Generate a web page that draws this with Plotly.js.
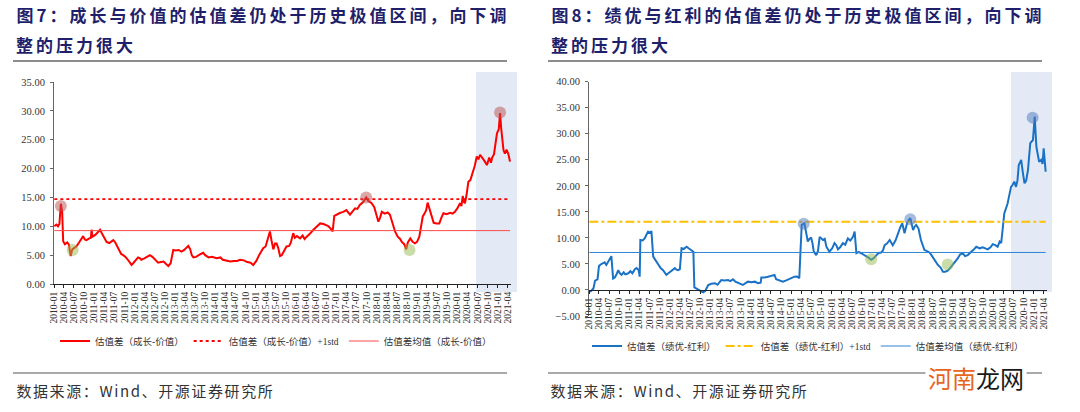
<!DOCTYPE html>
<html>
<head>
<meta charset="utf-8">
<script src="https://cdn.plot.ly/plotly-3.0.1.min.js"></script>
<style>
  html, body { margin: 0; padding: 0; background: #fff; }
  #chart { width: 1080px; height: 412px; }
  g.annotation[data-index="0"] text, g.annotation[data-index="1"] text,
  g.annotation[data-index="2"] text, g.annotation[data-index="3"] text { letter-spacing: 3px; }
  g.annotation[data-index="4"] text, g.annotation[data-index="5"] text { letter-spacing: 1.6px; }
</style>
</head>
<body>
<div id="chart"></div>
<script>
// ---------- Figure 7: growth - value valuation spread ----------
const growthDates = ["2010-01-04","2010-01-22","2010-02-06","2010-02-19","2010-03-04","2010-03-16","2010-03-25","2010-04-10","2010-05-01","2010-05-16","2010-06-01","2010-06-16","2010-07-07","2010-07-22","2010-08-16","2010-09-10","2010-09-22","2010-10-07","2010-10-22","2010-11-16","2010-12-01","2010-12-07","2010-12-16","2011-01-10","2011-02-01","2011-02-22","2011-03-10","2011-04-01","2011-04-22","2011-05-16","2011-06-07","2011-06-22","2011-07-10","2011-07-22","2011-08-16","2011-09-01","2011-09-19","2011-10-10","2011-11-01","2011-11-19","2011-12-04","2011-12-19","2012-01-10","2012-02-01","2012-02-16","2012-03-01","2012-03-25","2012-04-19","2012-05-19","2012-06-10","2012-07-01","2012-08-01","2012-08-25","2012-09-19","2012-10-10","2012-11-01","2012-11-22","2012-12-07","2012-12-16","2013-01-07","2013-02-01","2013-03-01","2013-03-25","2013-05-01","2013-05-19","2013-06-01","2013-06-16","2013-07-10","2013-08-01","2013-08-22","2013-09-13","2013-10-01","2013-11-01","2013-12-01","2014-01-13","2014-02-16","2014-03-10","2014-04-13","2014-05-16","2014-06-16","2014-07-16","2014-08-13","2014-09-16","2014-10-16","2014-11-16","2014-12-10","2015-01-07","2015-02-01","2015-02-22","2015-03-10","2015-04-01","2015-04-19","2015-05-10","2015-05-25","2015-06-10","2015-06-25","2015-07-10","2015-07-25","2015-08-10","2015-08-25","2015-09-16","2015-10-07","2015-11-01","2015-11-16","2015-12-07","2015-12-22","2016-01-10","2016-02-07","2016-03-01","2016-03-19","2016-04-07","2016-05-01","2016-06-07","2016-07-07","2016-08-07","2016-09-07","2016-10-01","2016-10-19","2016-11-10","2016-11-28","2016-12-13","2017-01-01","2017-02-01","2017-03-04","2017-04-01","2017-05-04","2017-06-01","2017-06-19","2017-07-10","2017-08-01","2017-09-01","2017-09-28","2017-10-16","2017-11-16","2017-12-10","2018-01-01","2018-01-16","2018-02-01","2018-02-16","2018-03-16","2018-04-10","2018-05-01","2018-05-19","2018-06-16","2018-07-10","2018-08-01","2018-08-16","2018-09-07","2018-09-25","2018-10-10","2018-11-01","2018-11-22","2018-12-13","2019-01-01","2019-01-22","2019-02-07","2019-02-22","2019-03-10","2019-03-25","2019-04-07","2019-04-25","2019-05-13","2019-06-01","2019-06-25","2019-07-22","2019-08-10","2019-08-28","2019-09-25","2019-10-28","2019-11-19","2019-12-10","2020-01-01","2020-01-25","2020-02-07","2020-02-19","2020-03-01","2020-03-10","2020-03-25","2020-04-10","2020-04-28","2020-05-19","2020-06-07","2020-06-25","2020-07-10","2020-07-25","2020-08-16","2020-09-07","2020-09-25","2020-10-16","2020-11-01","2020-11-10","2020-11-28","2020-12-13","2020-12-25","2021-01-10","2021-01-22","2021-02-01","2021-02-13","2021-02-22","2021-03-07","2021-03-22","2021-04-07","2021-04-22"];
const growthValues = [10.0,10.3,10.0,10.4,13.9,12.5,7.4,6.9,7.2,6.8,4.85,6.0,6.3,6.5,7.2,8.0,8.3,7.7,7.6,7.9,8.0,9.4,8.2,8.5,9.0,9.4,8.8,7.9,7.3,7.1,7.5,7.6,7.2,6.8,5.9,5.2,5.0,4.7,4.2,3.7,3.3,3.6,4.1,4.6,4.5,4.2,4.4,4.7,5.0,4.7,4.3,3.7,3.8,3.9,3.5,3.1,3.6,5.0,5.9,5.8,5.9,5.6,5.9,6.6,6.0,5.0,4.6,4.7,5.0,5.2,5.4,5.0,4.6,4.7,4.45,4.6,4.2,4.0,3.9,4.0,4.0,4.2,4.1,3.8,3.7,3.3,4.0,5.0,5.6,6.2,6.5,7.8,9.1,7.5,6.0,7.0,7.0,6.2,4.85,5.0,5.9,6.5,6.6,7.2,8.8,8.0,8.3,7.9,8.4,7.8,8.2,8.6,9.4,10.0,10.5,10.4,10.2,10.05,9.6,9.1,11.8,12.0,12.3,12.5,12.8,12.0,12.8,13.1,13.0,13.7,14.2,15.0,14.4,14.0,13.3,12.0,10.8,11.5,12.5,12.2,12.4,12.0,10.8,9.1,8.2,7.8,7.3,6.9,6.0,7.2,7.9,7.3,7.05,7.3,8.2,10.0,11.7,12.2,12.8,14.1,12.8,12.0,10.6,10.5,10.5,11.5,12.25,12.1,12.35,12.2,12.5,13.1,14.0,13.5,15.25,14.2,14.0,15.5,17.7,18.0,19.2,20.5,22.1,21.6,22.4,21.9,21.2,20.6,21.9,21.0,21.8,22.5,24.5,26.1,26.8,29.6,27.0,24.0,23.2,22.6,23.3,22.5,21.2];
const growthMean = 9.25;
const growthPlusStd = 14.7;
const growthHighDates = ["2010-03-04","2017-09-28","2021-01-22"];
const growthHighValues = [13.5,15.0,29.7];
const growthLowDates = ["2010-06-19","2018-10-25"];
const growthLowValues = [5.9,5.9];

// ---------- Figure 8: quality - dividend valuation spread ----------
const qualityDates = ["2010-01-04","2010-01-19","2010-02-10","2010-02-25","2010-03-19","2010-04-01","2010-04-16","2010-05-07","2010-05-22","2010-06-07","2010-06-25","2010-07-10","2010-07-22","2010-08-07","2010-08-22","2010-09-07","2010-09-22","2010-10-07","2010-10-22","2010-11-10","2010-11-25","2010-12-22","2011-01-10","2011-01-28","2011-02-19","2011-03-07","2011-03-25","2011-04-04","2011-04-10","2011-05-01","2011-05-19","2011-06-04","2011-06-19","2011-07-04","2011-07-19","2011-08-04","2011-08-22","2011-09-16","2011-10-10","2011-11-01","2011-12-01","2011-12-25","2012-01-19","2012-02-16","2012-03-01","2012-03-16","2012-04-01","2012-04-16","2012-05-07","2012-06-01","2012-06-19","2012-07-13","2012-08-01","2012-08-10","2012-08-28","2012-09-28","2012-10-28","2012-11-16","2012-12-13","2013-01-10","2013-02-13","2013-03-07","2013-04-10","2013-05-07","2013-06-10","2013-07-01","2013-07-25","2013-08-16","2013-09-10","2013-10-01","2013-10-22","2013-11-16","2013-12-07","2014-01-07","2014-02-07","2014-03-07","2014-04-01","2014-04-07","2014-05-07","2014-06-07","2014-07-07","2014-08-04","2014-08-19","2014-09-16","2014-10-19","2014-11-13","2014-12-07","2015-01-01","2015-02-01","2015-02-25","2015-03-16","2015-03-28","2015-04-07","2015-05-01","2015-05-16","2015-06-01","2015-06-16","2015-07-01","2015-07-13","2015-07-25","2015-08-16","2015-09-01","2015-09-16","2015-10-07","2015-10-16","2015-11-01","2015-11-16","2015-12-13","2016-01-07","2016-01-28","2016-02-13","2016-02-28","2016-03-19","2016-04-13","2016-05-04","2016-05-28","2016-06-19","2016-07-13","2016-07-28","2016-08-13","2016-09-04","2016-09-25","2016-10-16","2016-11-10","2016-12-01","2016-12-25","2017-01-16","2017-02-10","2017-03-01","2017-03-25","2017-04-10","2017-04-25","2017-05-16","2017-06-10","2017-07-07","2017-08-01","2017-08-22","2017-09-13","2017-10-01","2017-10-22","2017-11-07","2017-11-19","2017-12-13","2018-01-07","2018-01-22","2018-02-04","2018-02-25","2018-03-19","2018-04-19","2018-05-10","2018-06-04","2018-06-25","2018-07-19","2018-08-19","2018-09-13","2018-10-04","2018-10-25","2018-11-16","2018-12-07","2019-01-01","2019-01-25","2019-02-16","2019-03-07","2019-04-01","2019-04-22","2019-05-16","2019-06-16","2019-07-07","2019-08-01","2019-09-01","2019-09-28","2019-10-19","2019-11-13","2019-12-07","2019-12-28","2020-01-19","2020-02-10","2020-02-28","2020-03-13","2020-03-28","2020-04-10","2020-05-10","2020-05-25","2020-06-10","2020-06-25","2020-07-10","2020-07-25","2020-08-07","2020-08-19","2020-09-10","2020-09-25","2020-10-10","2020-10-25","2020-11-10","2020-11-22","2020-12-01","2020-12-25","2021-01-10","2021-01-25","2021-02-07","2021-02-19","2021-03-10","2021-03-22","2021-04-01","2021-04-10","2021-04-19"];
const qualityValues = [-0.3,-0.2,0.3,1.8,2.05,4.6,4.9,5.1,5.3,4.8,5.4,6.0,6.5,2.2,2.4,3.0,3.8,3.2,2.9,3.4,3.0,3.2,3.6,3.2,4.0,4.2,3.8,2.55,9.6,9.5,9.9,10.6,11.2,11.0,11.3,6.4,5.8,4.8,4.2,3.8,2.9,3.3,3.7,4.2,3.9,3.8,4.0,8.0,7.9,8.3,8.0,7.7,7.35,0.5,0.3,0.0,-0.45,-0.2,0.96,1.2,1.3,1.0,1.9,1.8,1.9,1.7,2.05,1.6,1.4,1.1,0.96,1.3,1.6,1.5,1.6,1.3,1.4,2.4,2.4,2.55,2.7,2.9,2.05,1.9,1.6,1.8,2.05,2.3,2.55,2.6,2.25,8.0,12.5,12.8,11.0,9.3,9.8,10.1,9.0,7.35,6.7,7.5,10.2,9.9,9.6,9.8,8.3,7.35,8.0,9.0,8.6,7.8,8.2,9.0,8.7,9.9,9.5,10.2,11.2,7.05,7.3,7.05,6.8,6.4,6.2,5.8,6.1,6.7,7.1,7.2,7.6,8.6,8.9,9.6,8.6,9.5,10.9,12.0,12.8,10.9,12.3,13.1,13.8,11.5,12.2,12.5,11.8,9.6,7.7,7.4,7.2,6.6,5.76,4.8,4.3,3.5,3.5,3.7,4.2,4.8,5.4,6.1,6.8,7.05,6.5,6.7,7.35,7.7,8.3,8.0,8.2,8.0,7.8,8.2,8.8,8.6,8.3,9.3,9.0,12.0,14.7,16.6,18.0,19.8,20.2,20.8,19.8,21.0,24.0,25.0,22.5,20.5,21.0,23.0,26.0,28.2,28.8,33.3,27.5,26.0,24.6,25.0,24.2,27.2,24.0,22.7];
const qualityMean = 7.2;
const qualityPlusStd = 13.1;
const qualityHighDates = ["2015-04-25","2017-12-13","2020-12-22"];
const qualityHighValues = [12.7,13.6,33.1];
const qualityLowDates = ["2016-12-25","2018-11-16"];
const qualityLowValues = [5.9,4.9];

// ---------- Text ----------
const titleLeft1 = "图7：成长与价值的估值差仍处于历史极值区间，向下调";
const titleLeft2 = "整的压力很大";
const titleRight1 = "图8：绩优与红利的估值差仍处于历史极值区间，向下调";
const titleRight2 = "整的压力很大";
const sourceText = "数据来源：Wind、开源证券研究所";
const leftNames = ["估值差（成长-价值）", "估值差（成长-价值）+1std", "估值差均值（成长-价值）"];
const rightNames = ["估值差（绩优-红利）", "估值差（绩优-红利）+1std", "估值差均值（绩优-红利）"];
const watermark = '<span style="color:#e8641e">河南</span><span style="color:#1a1a1a">龙网</span>';

const W = 1080, H = 412;
const px = v => v / W;
const py = v => 1 - v / H;
const TITLE_SP = 3, SRC_SP = 1.6;   // CSS letter-spacing used above
const spShift = (t, sp) => t.length * sp / 2;

const first = a => a[0], last = a => a[a.length - 1];

const traces = [
  // left
  {x: growthDates, y: growthValues, xaxis: 'x', yaxis: 'y', type: 'scatter', mode: 'lines',
   name: leftNames[0], line: {color: '#ff0000', width: 2}, legend: 'legend'},
  {x: [first(growthDates), last(growthDates)], y: [growthPlusStd, growthPlusStd], xaxis: 'x', yaxis: 'y',
   type: 'scatter', mode: 'lines', name: leftNames[1], line: {color: '#ff0000', width: 1.8, dash: 'dot'}, legend: 'legend'},
  {x: [first(growthDates), last(growthDates)], y: [growthMean, growthMean], xaxis: 'x', yaxis: 'y',
   type: 'scatter', mode: 'lines', name: leftNames[2], line: {color: '#ff4a4a', width: 1}, legend: 'legend'},
  {x: growthHighDates, y: growthHighValues, xaxis: 'x', yaxis: 'y', type: 'scatter', mode: 'markers',
   showlegend: false, hoverinfo: 'skip', marker: {size: 12, color: 'rgba(185,80,80,0.5)'}},
  {x: growthLowDates, y: growthLowValues, xaxis: 'x', yaxis: 'y', type: 'scatter', mode: 'markers',
   showlegend: false, hoverinfo: 'skip', marker: {size: 12, color: 'rgba(150,185,80,0.5)'}},
  // right
  {x: qualityDates, y: qualityValues, xaxis: 'x2', yaxis: 'y2', type: 'scatter', mode: 'lines',
   name: rightNames[0], line: {color: '#1a72c6', width: 2}, legend: 'legend2'},
  {x: [first(qualityDates), last(qualityDates)], y: [qualityPlusStd, qualityPlusStd], xaxis: 'x2', yaxis: 'y2',
   type: 'scatter', mode: 'lines', name: rightNames[1], line: {color: '#ffc000', width: 1.8, dash: 'dashdot'}, legend: 'legend2'},
  {x: [first(qualityDates), last(qualityDates)], y: [qualityMean, qualityMean], xaxis: 'x2', yaxis: 'y2',
   type: 'scatter', mode: 'lines', name: rightNames[2], line: {color: '#2f84d6', width: 1}, legend: 'legend2'},
  {x: qualityHighDates, y: qualityHighValues, xaxis: 'x2', yaxis: 'y2', type: 'scatter', mode: 'markers',
   showlegend: false, hoverinfo: 'skip', marker: {size: 12, color: 'rgba(80,120,190,0.5)'}},
  {x: qualityLowDates, y: qualityLowValues, xaxis: 'x2', yaxis: 'y2', type: 'scatter', mode: 'markers',
   showlegend: false, hoverinfo: 'skip', marker: {size: 12, color: 'rgba(150,185,80,0.5)'}}
];

const tickFontX = {family: 'Liberation Serif, serif', size: 9.5, color: '#333'};
const tickFontY = {family: 'Liberation Serif, serif', size: 10.5, color: '#333'};

const xCommon = {
  type: 'date', range: ['2010-01-01', '2021-05-01'], tick0: '2010-01-01', dtick: 'M3',
  tickformat: '%Y-%m', tickangle: -90, ticks: 'outside', ticklen: 3, tickcolor: '#222',
  showline: true, linecolor: '#222', linewidth: 1, showgrid: false, zeroline: false,
  tickfont: tickFontX, fixedrange: true
};
const yCommon = {
  dtick: 5, tickformat: '.2f', ticks: 'outside', ticklen: 3, tickcolor: '#666',
  showline: true, linecolor: '#666', linewidth: 1, showgrid: false, zeroline: false,
  tickfont: tickFontY, fixedrange: true, ticklabelstandoff: 3
};

const titleFont = {family: 'Noto Sans CJK SC, sans-serif', size: 17, color: '#1f1f6b', weight: 'bold'};
const srcFont = {family: 'Noto Sans CJK SC, sans-serif', size: 15, color: '#333'};
const legFont = {family: 'Liberation Serif, Noto Sans CJK SC, serif', size: 9.5, color: '#333'};

function textAnn(text, x, y, font, sp) {
  return {text: text, xref: 'paper', yref: 'paper', x: px(x), y: py(y), xanchor: 'left', yanchor: 'middle',
          xshift: spShift(text, sp), showarrow: false, font: font};
}

const layout = {
  width: W, height: H, autosize: false,
  margin: {l: 0, r: 0, t: 0, b: 0},
  paper_bgcolor: '#fff', plot_bgcolor: 'rgba(0,0,0,0)',
  xaxis: Object.assign({}, xCommon, {domain: [px(54), px(511)], anchor: 'y'}),
  yaxis: Object.assign({}, yCommon, {domain: [py(284), py(82)], range: [0, 35], anchor: 'x'}),
  xaxis2: Object.assign({}, xCommon, {domain: [px(589), px(1047)], anchor: 'free', position: py(290)}),
  yaxis2: Object.assign({}, yCommon, {domain: [py(316), py(81.7)], range: [-5, 40], anchor: 'x2'}),
  legend: {orientation: 'h', x: px(55), xanchor: 'left', y: py(341), yanchor: 'middle',
           font: legFont, bgcolor: 'rgba(0,0,0,0)', itemwidth: 30, itemclick: false, itemdoubleclick: false},
  legend2: {orientation: 'h', x: px(587), xanchor: 'left', y: py(346), yanchor: 'middle',
           font: legFont, bgcolor: 'rgba(0,0,0,0)', itemwidth: 30, itemclick: false, itemdoubleclick: false},
  shapes: [
    {type: 'rect', xref: 'paper', yref: 'paper', x0: px(476), x1: px(517), y0: py(292), y1: py(72),
     fillcolor: '#e3eaf5', line: {width: 0}, layer: 'below'},
    {type: 'rect', xref: 'paper', yref: 'paper', x0: px(1011), x1: px(1052), y0: py(292), y1: py(72),
     fillcolor: '#e3eaf5', line: {width: 0}, layer: 'below'},
    {type: 'line', xref: 'paper', yref: 'paper', x0: px(13), x1: px(507), y0: py(61), y1: py(61),
     line: {color: '#8c8c8c', width: 2}},
    {type: 'line', xref: 'paper', yref: 'paper', x0: px(548), x1: px(1042), y0: py(61), y1: py(61),
     line: {color: '#8c8c8c', width: 2}},
    {type: 'line', xref: 'paper', yref: 'paper', x0: px(13), x1: px(507), y0: py(373), y1: py(373),
     line: {color: '#555', width: 1.2}},
    {type: 'line', xref: 'paper', yref: 'paper', x0: px(548), x1: px(1042), y0: py(373), y1: py(373),
     line: {color: '#555', width: 1.2}}
  ],
  annotations: [
    textAnn(titleLeft1, 14, 15, titleFont, TITLE_SP),
    textAnn(titleLeft2, 14, 45, titleFont, TITLE_SP),
    textAnn(titleRight1, 549, 15, titleFont, TITLE_SP),
    textAnn(titleRight2, 549, 45, titleFont, TITLE_SP),
    textAnn(sourceText, 14, 390, srcFont, SRC_SP),
    textAnn(sourceText, 548, 390, srcFont, SRC_SP),
    {text: watermark, xref: 'paper', yref: 'paper', x: px(976), y: py(377), xanchor: 'center', yanchor: 'middle', showarrow: false,
     bgcolor: '#ffffff', borderpad: 2, font: {family: 'Noto Sans CJK SC, sans-serif', size: 24, color: '#1a1a1a'}}
  ]
};

Plotly.newPlot('chart', traces, layout, {staticPlot: true, displayModeBar: false});
</script>
</body>
</html>
